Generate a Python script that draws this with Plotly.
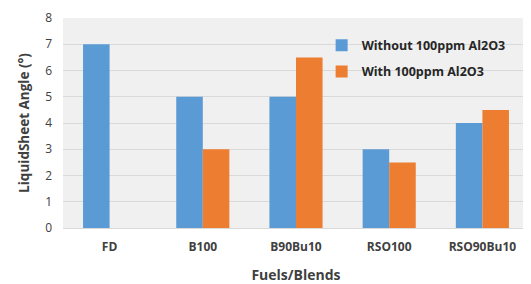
import plotly.graph_objects as go

categories = ["FD", "B100", "B90Bu10", "RSO100", "RSO90Bu10"]
without_al2o3 = [7, 5, 5, 3, 4]
with_al2o3 = [0, 3, 6.5, 2.5, 4.5]
y_ticks = [0, 1, 2, 3, 4, 5, 6, 7, 8]

font_family = "'Open Sans', Lato, sans-serif"
txt = "#404040"

fig = go.Figure()
fig.add_trace(go.Bar(x=categories, y=without_al2o3, name="<b>Without 100ppm Al2O3</b>",
                     legendgroup="a",
                     marker=dict(color="#5B9BD5", line=dict(width=0))))
fig.add_trace(go.Bar(x=categories, y=with_al2o3, name="<b>With 100ppm Al2O3</b>",
                     legendgroup="b",
                     marker=dict(color="#ED7D31", line=dict(width=0))))

fig.update_layout(
    width=523, height=276,
    margin=dict(l=55, r=2, t=10, b=56),
    paper_bgcolor="white",
    plot_bgcolor="#f0f0f0",
    barmode="group", bargap=0.43, bargroupgap=0,
    font=dict(family=font_family, color=txt, size=11),
    showlegend=True,
    legend=dict(x=0.555, y=0.94, xanchor="left", yanchor="top",
                bgcolor="rgba(0,0,0,0)", font=dict(size=12.5, color="#262626"),
                itemwidth=30, traceorder="grouped", tracegroupgap=7),
    xaxis=dict(title=dict(text="<b>Fuels/Blends</b>", font=dict(size=14), standoff=16),
               tickfont=dict(size=12), ticks="", showline=True, linecolor="#d9d9d9",
               ticklabelstandoff=8,
               tickprefix="<b>", ticksuffix="</b>"),
    yaxis=dict(title=dict(text="<b>LiquidSheet Angle (°)</b>", font=dict(size=13.5), standoff=12),
               range=[0, 8], tickvals=y_ticks, tickfont=dict(size=12),
               ticklabelstandoff=10,
               tickprefix="<b>", ticksuffix="</b>",
               showgrid=True, gridcolor="#d9d9d9", gridwidth=1, zeroline=False,
               showline=False),
)

fig.write_html("out.html")
